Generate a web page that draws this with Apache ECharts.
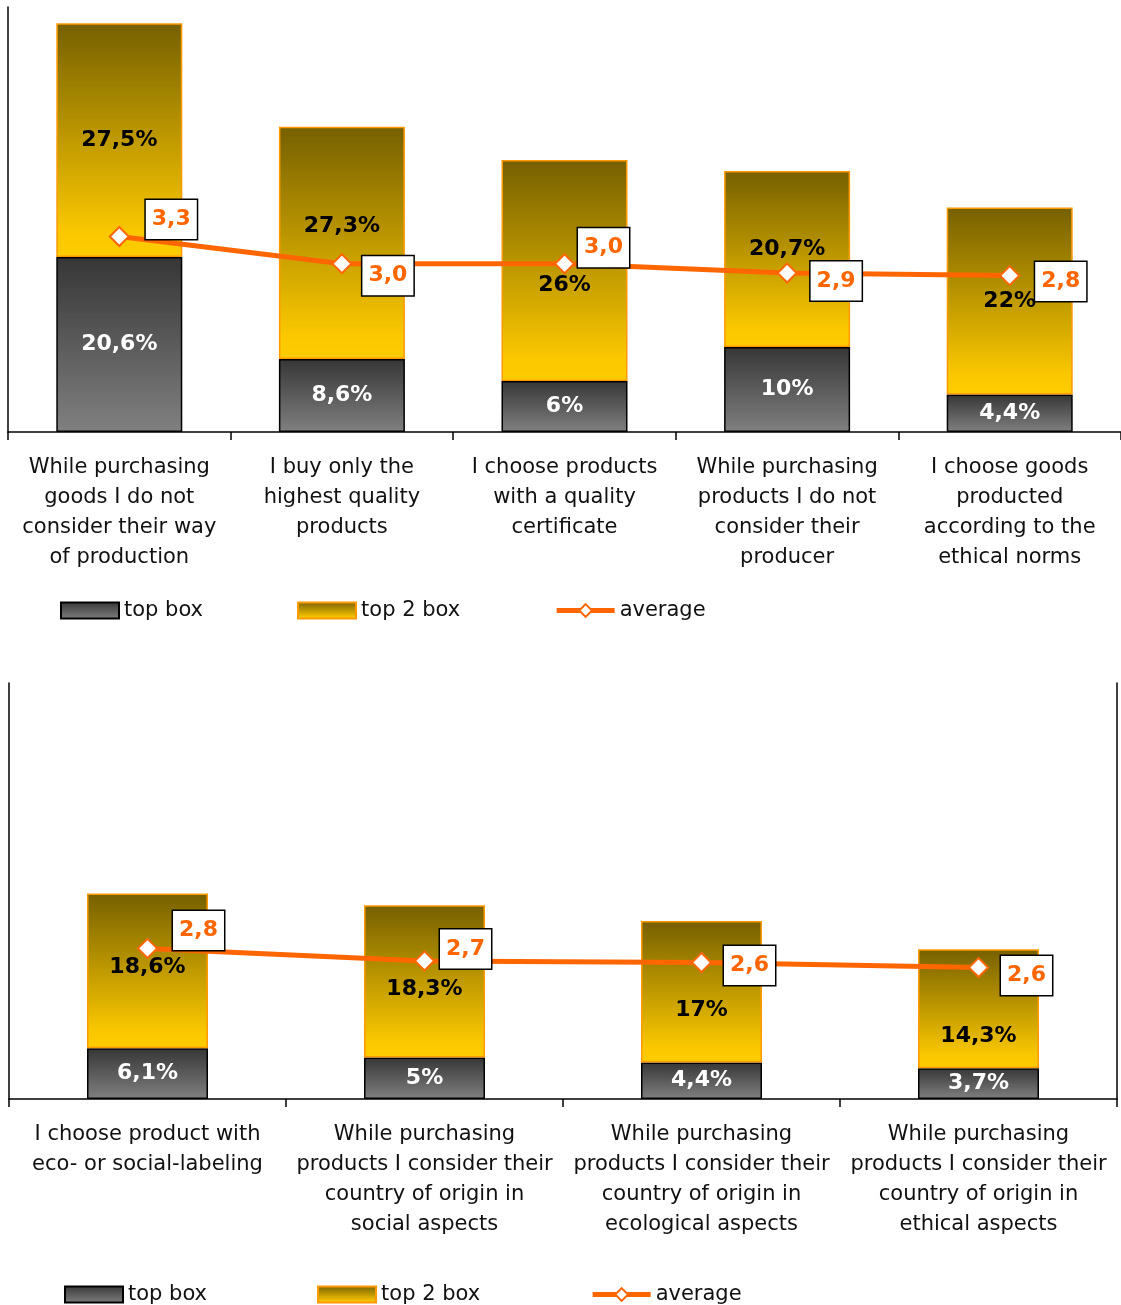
<!DOCTYPE html>
<html>
<head>
<meta charset="utf-8">
<script src="https://cdn.jsdelivr.net/npm/echarts@6/dist/echarts.min.js"></script>
<style>
html,body{margin:0;padding:0;background:#fff;}
#chart{width:1121px;height:1305px;}
</style>
</head>
<body>
<div id="chart"></div>
<script>
// ---- data (top chart) ----
const categoriesA = [
  'While purchasing\ngoods I do not\nconsider their way\nof production',
  'I buy only the\nhighest quality\nproducts',
  'I choose products\nwith a quality\ncertificate',
  'While purchasing\nproducts I do not\nconsider their\nproducer',
  'I choose goods\nproducted\naccording to the\nethical norms'
];
const topBoxA = [20.6, 8.6, 6, 10, 4.4];
const top2BoxA = [27.5, 27.3, 26, 20.7, 22];
const averageA = [3.3, 2.98, 2.98, 2.87, 2.84];

// ---- data (bottom chart) ----
const categoriesB = [
  'I choose product with\neco- or social-labeling',
  'While purchasing\nproducts I consider their\ncountry of origin in\nsocial aspects',
  'While purchasing\nproducts I consider their\ncountry of origin in\necological aspects',
  'While purchasing\nproducts I consider their\ncountry of origin in\nethical aspects'
];
const topBoxB = [6.1, 5, 4.4, 3.7];
const top2BoxB = [18.6, 18.3, 17, 14.3];
const averageB = [2.81, 2.66, 2.64, 2.58];

const seriesNames = ['top box', 'top 2 box', 'average'];

// ---- label layout (style only) ----
const avgLabelShiftA = [[52,-17],[46,12],[39,-16],[49,8],[51,6]];
const avgLabelShiftB = [[51,-18],[41,-12],[48,3],[48,8]];
const top2LabelShiftA = [0,-17,15,-10,0];
const top2LabelShiftB = [-4,8,19,28];

const FONT = 'DejaVu Sans';
const ORANGE = '#ff6600';
const fmtPct = v => String(v).replace('.', ',') + '%';
const fmtAvg = v => v.toFixed(1).replace('.', ',');

const grayGrad = () => new echarts.graphic.LinearGradient(0,0,0,1,[
  {offset:0,color:'#363636'},{offset:1,color:'#808080'}]);
const goldGrad = () => new echarts.graphic.LinearGradient(0,0,0,1,[
  {offset:0,color:'#766000'},{offset:0.9,color:'#fbc800'},{offset:1,color:'#ffcc00'}]);

function barSeries(name, vals, xi, yi, isTop2, shifts) {
  return {
    name: name, type: 'bar', stack: 's' + xi, xAxisIndex: xi, yAxisIndex: yi,
    barWidth: xi === 0 ? 126 : 121,
    itemStyle: isTop2
      ? {color: goldGrad(), borderColor: '#ff9900', borderWidth: 1.5}
      : {color: grayGrad(), borderColor: '#000', borderWidth: 1.5},
    label: {
      show: true, position: 'inside', fontFamily: FONT, fontWeight: 'bold', fontSize: 22,
      color: isTop2 ? '#000' : '#fff',
      formatter: p => fmtPct(p.value)
    },
    data: vals.map((v, i) => (shifts ? {value: v, label: {offset: [0, shifts[i]]}} : v)),
    z: 2
  };
}
function lineSeries(vals, xi, yi, shifts) {
  return {
    name: 'average', type: 'line', xAxisIndex: xi, yAxisIndex: yi,
    lineStyle: {color: ORANGE, width: 5},
    itemStyle: {color: '#fff', borderColor: ORANGE, borderWidth: 2},
    color: ORANGE,
    symbol: 'diamond', symbolSize: 19,
    label: {
      show: true, position: 'inside', fontFamily: FONT, fontWeight: 'bold', fontSize: 22,
      color: ORANGE, backgroundColor: '#fff', borderColor: '#000', borderWidth: 1.5,
      padding: [9, 6, 8, 6],
      formatter: p => fmtAvg(p.value)
    },
    data: vals.map((v, i) => ({value: v, label: {offset: shifts[i]}})),
    z: 5
  };
}

function catAxis(cats, gi) {
  return {
    type: 'category', gridIndex: gi, data: cats,
    axisLine: {show: true, lineStyle: {color: '#000', width: 1.5}},
    axisTick: {show: true, length: 8, lineStyle: {color: '#000', width: 1.5}},
    axisLabel: {interval: 0, margin: 21, fontFamily: FONT, fontSize: 21, lineHeight: 30, color: '#111'}
  };
}
function valAxis(gi, min, max, showLine, pos) {
  return {
    type: 'value', gridIndex: gi, min: min, max: max, position: pos,
    axisLine: {show: showLine, lineStyle: {color: '#000', width: 1.5}},
    axisTick: {show: false}, axisLabel: {show: false}, splitLine: {show: false}
  };
}
function legend(left, top, gap) {
  return {
    data: [
      {name: seriesNames[0], icon: 'rect'},
      {name: seriesNames[1], icon: 'rect'},
      {name: seriesNames[2],
       lineStyle: {color: ORANGE, width: 5},
       itemStyle: {color: '#fff', borderColor: ORANGE, borderWidth: 2}}
    ],
    left: left, top: top, itemGap: gap, itemWidth: 58, itemHeight: 16, padding: 0,
    textStyle: {fontFamily: FONT, fontSize: 21, color: '#111'},
    selectedMode: false
  };
}

const option = {
  animation: false,
  backgroundColor: '#fff',
  grid: [
    {left: 8, top: 7, width: 1115, height: 425},
    {left: 9, top: 683, width: 1108, height: 416}
  ],
  xAxis: [catAxis(categoriesA, 0), catAxis(categoriesB, 1)],
  yAxis: [
    valAxis(0, 0, 50, true, 'left'),
    valAxis(0, 1, 6, false, 'right'),
    valAxis(1, 0, 50, true, 'left'),
    valAxis(1, 1, 6, true, 'right')
  ],
  legend: [legend(60, 600, 94), legend(64, 1284, 110)],
  series: [
    barSeries('top box', topBoxA, 0, 0, false, null),
    barSeries('top 2 box', top2BoxA, 0, 0, true, top2LabelShiftA),
    lineSeries(averageA, 0, 1, avgLabelShiftA),
    barSeries('top box', topBoxB, 1, 2, false, null),
    barSeries('top 2 box', top2BoxB, 1, 2, true, top2LabelShiftB),
    lineSeries(averageB, 1, 3, avgLabelShiftB)
  ]
};
const chart = echarts.init(document.getElementById('chart'), null, {renderer: 'canvas'});
chart.setOption(option);
</script>
</body>
</html>
